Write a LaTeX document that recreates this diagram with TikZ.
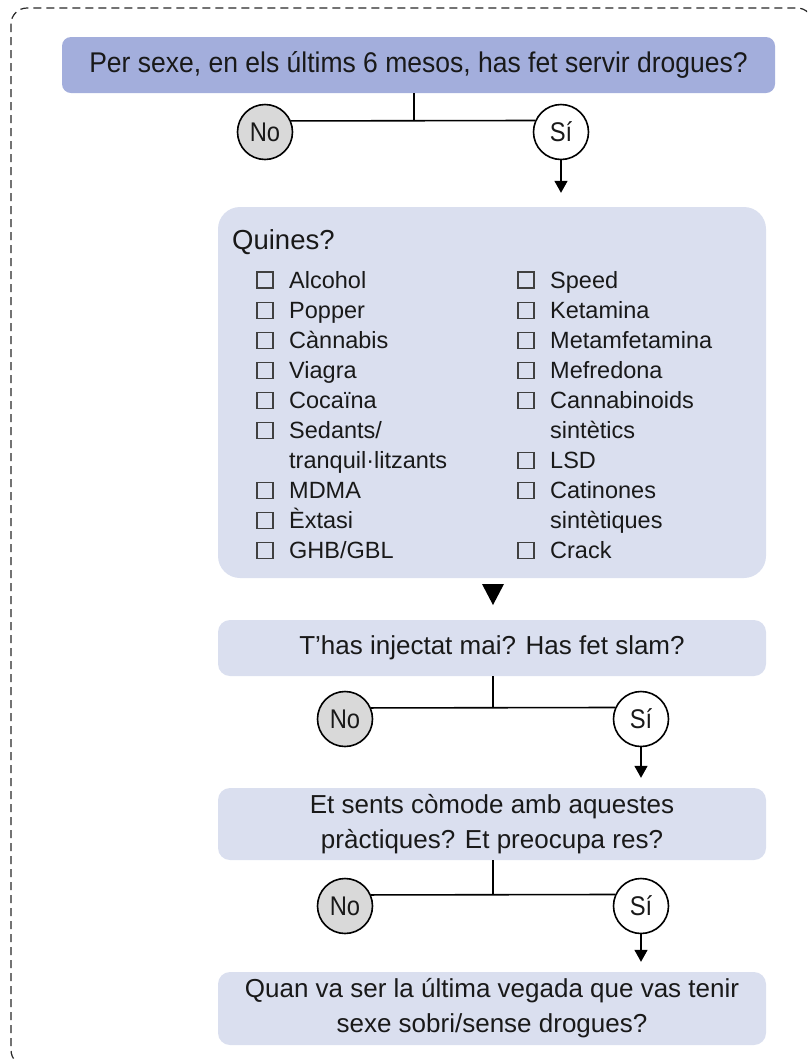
\documentclass[tikz,border=0pt]{standalone}
\usepackage{fontspec}
\setmainfont{Liberation Sans}
\newfontfamily\titlefont[FakeStretch=0.93]{Liberation Sans}
\newfontfamily\circfont[FakeStretch=0.88]{Liberation Sans}
\usetikzlibrary{arrows.meta}
\definecolor{titlefill}{RGB}{163,174,220}
\definecolor{boxfill}{RGB}{218,223,239}
\definecolor{nofill}{RGB}{217,217,217}
\definecolor{ink}{RGB}{25,25,25}
\definecolor{framecol}{RGB}{40,40,40}
\begin{document}
\begin{tikzpicture}[x=1pt,y=-1pt,
  every node/.style={text=ink},
  titlebox/.style={rectangle, fill=titlefill, rounded corners=9pt, minimum width=713pt, minimum height=56pt, inner sep=0pt, font=\titlefont\fontsize{28.5}{28.5}\selectfont},
  qbox/.style={rectangle, fill=boxfill, rounded corners=12pt, minimum width=548pt, inner sep=0pt, align=center, font=\fontsize{26}{35}\selectfont},
  listbox/.style={rectangle, fill=boxfill, rounded corners=22pt, minimum width=548pt, minimum height=371pt, inner sep=0pt},
  ans/.style={circle, draw=black, line width=1.6pt, minimum size=55pt, inner sep=0pt, font=\circfont\fontsize{27}{27}\selectfont},
  conn/.style={draw=black, line width=1.6pt},
  arr/.style={conn, -{Triangle[width=13pt,length=12pt]}},
  item/.style={anchor=base west, inner sep=0pt, font=\fontsize{23.5}{23.5}\selectfont},
  chkbox/.style={draw=black!75, line width=1.1pt}
]
\useasboundingbox (0,0) rectangle (807,1061);
\begin{scope}
  \clip (0,0) rectangle (807,1061);
  \draw[framecol, line width=1.2pt, dash pattern=on 8pt off 5pt, rounded corners=16pt] (11,8) rectangle (813,1066);
\end{scope}

% Question 1
\node[titlebox] (title) at (418.5,65) {Per sexe, en els últims 6 mesos, has fet servir drogues?};
\node[ans, fill=nofill] (no1) at (265,132) {No};
\node[ans, fill=white] (si1) at (561,132) {Sí};
\coordinate (j1) at (414,121);
\draw[conn] (no1.23.6) -- (si1.156.4);
\draw[conn] (title.south -| j1) -- (j1);

% List box
\node[listbox] (quines) at (492,392.5) {};
\draw[arr, shorten >=14pt] (si1.south) -- (si1.south |- quines.north);
\node[anchor=base west, inner sep=0pt, font=\fontsize{27.5}{27.5}\selectfont] (qt) at (232,249) {Quines?};

\foreach \r/\t/\c in {0/Alcohol/1, 1/Popper/1, 2/Cànnabis/1, 3/Viagra/1, 4/Cocaïna/1, 5/{Sedants/}/1, 6/tranquil·litzants/0, 7/MDMA/1, 8/Èxtasi/1, 9/{GHB/GBL}/1}{
  \node[item] (L\r) at (289,288+30.1*\r) {\t};
  \ifnum\c=1 \draw[chkbox] (257,288+30.1*\r-16) rectangle ++(16,16); \fi
}
\foreach \r/\t/\c in {0/Speed/1, 1/Ketamina/1, 2/Metamfetamina/1, 3/Mefredona/1, 4/Cannabinoids/1, 5/sintètics/0, 6/LSD/1, 7/Catinones/1, 8/sintètiques/0, 9/Crack/1}{
  \node[item] (R\r) at (550,288+30.1*\r) {\t};
  \ifnum\c=1 \draw[chkbox] (518,288+30.1*\r-16) rectangle ++(16,16); \fi
}

% arrow head between list and question 2
\fill[black] (482,584) -- (504,584) -- (493,605) -- cycle;

% Question 2
\node[qbox, minimum height=56pt] (q2) at (492,648) {T’has injectat mai? Has fet slam?};
\node[ans, fill=nofill] (no2) at (345,719) {No};
\node[ans, fill=white] (si2) at (641,719) {Sí};
\coordinate (j2) at (493,707);
\draw[conn] (no2.23.6) -- (si2.156.4);
\draw[conn] (q2.south -| j2) -- (j2);

% Question 3
\node[qbox, minimum height=72pt] (q3) at (492,824) {Et sents còmode amb aquestes\\pràctiques? Et preocupa res?};
\draw[arr, shorten >=10pt] (si2.south) -- (si2.south |- q3.north);
\node[ans, fill=nofill] (no3) at (345,906) {No};
\node[ans, fill=white] (si3) at (641,906) {Sí};
\coordinate (j3) at (493,894);
\draw[conn] (no3.23.6) -- (si3.156.4);
\draw[conn] (q3.south -| j3) -- (j3);

% Question 4
\node[qbox, minimum height=73pt] (q4) at (492,1008.5) {Quan va ser la última vegada que vas tenir\\sexe sobri/sense drogues?};
\draw[arr, shorten >=10pt] (si3.south) -- (si3.south |- q4.north);
\end{tikzpicture}
\end{document}
